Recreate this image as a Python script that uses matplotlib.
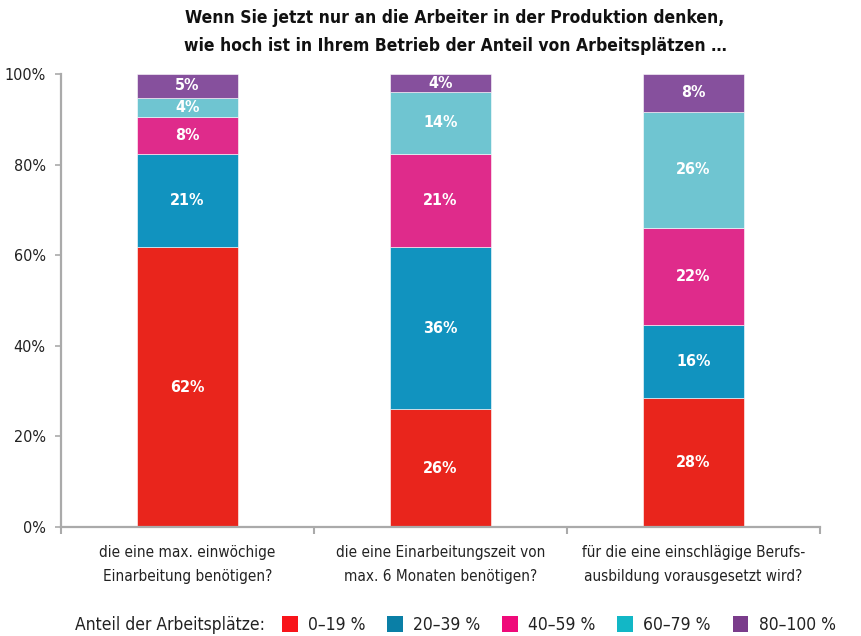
import matplotlib
matplotlib.use("Agg")
import matplotlib.pyplot as plt
from matplotlib import font_manager
from matplotlib.patches import Patch
import numpy as np

categories = ["die eine max. einwöchige\nEinarbeitung benötigen?",
              "die eine Einarbeitungszeit von\nmax. 6 Monaten benötigen?",
              "für die eine einschlägige Berufs-\nausbildung vorausgesetzt wird?"]
series_names = ["0–19 %", "20–39 %", "40–59 %", "60–79 %", "80–100 %"]
s_0_19 = [61.8, 26.0, 28.4]
s_20_39 = [20.6, 35.8, 16.1]
s_40_59 = [8.0, 20.6, 21.6]
s_60_79 = [4.4, 13.6, 25.6]
s_80_100 = [5.2, 4.0, 8.3]
yticks = [0, 20, 40, 60, 80, 100]
ytick_labels = ["0%", "20%", "40%", "60%", "80%", "100%"]
title = "Wenn Sie jetzt nur an die Arbeiter in der Produktion denken,\nwie hoch ist in Ihrem Betrieb der Anteil von Arbeitsplätzen …"
legend_title = "Anteil der Arbeitsplätze:"

bar_colors = ["#e9251c", "#1193bf", "#df2b8b", "#6fc5d1", "#86509d"]
legend_colors = ["#f8141a", "#0a7fa6", "#ef0a7a", "#12b7c6", "#7a3c8b"]

names = {f.name for f in font_manager.fontManager.ttflist}
if "Liberation Sans Narrow" in names:
    fam = "Liberation Sans Narrow"
    stretch = "normal"
else:
    fam = "DejaVu Sans"
    stretch = "condensed"
plt.rcParams["font.family"] = [fam, "DejaVu Sans"]
plt.rcParams["font.stretch"] = stretch

fig = plt.figure(figsize=(8.62, 6.36), dpi=100)
ax = fig.add_axes([61/862, 1-527/636, (820-61)/862, (527-74)/636])

series = [s_0_19, s_20_39, s_40_59, s_60_79, s_80_100]
x = np.arange(len(categories))
bottom = np.zeros(len(categories))
for vals, col in zip(series, bar_colors):
    vals = np.array(vals)
    ax.bar(x, vals, bottom=bottom, width=0.4, color=col, edgecolor="white", linewidth=0.4)
    for xi, b, v in zip(x, bottom, vals):
        ax.text(xi, b + v/2, f"{round(v)}%", ha="center", va="center", color="white",
                fontsize=11.5, fontweight="bold")
    bottom += vals

ax.set_xlim(-0.5, len(categories) - 0.5)
ax.set_ylim(0, 100)
ax.set_yticks(yticks)
ax.set_yticklabels(ytick_labels, fontsize=11.5, color="#222222")
ax.set_xticks(np.arange(-0.5, len(categories)), minor=False)
ax.set_xticklabels([])
ax.set_xticks(x, minor=True)
ax.set_xticklabels(categories, minor=True, fontsize=11, color="#222222", linespacing=1.75)
ax.tick_params(axis="x", which="major", length=5, color="#aaaaaa", width=1.5)
ax.tick_params(axis="x", which="minor", length=0, pad=13)
ax.tick_params(axis="y", length=4, color="#aaaaaa", width=1.2, pad=7)
for s in ["top", "right"]:
    ax.spines[s].set_visible(False)
for s in ["left", "bottom"]:
    ax.spines[s].set_color("#aaaaaa")
    ax.spines[s].set_linewidth(1.6)

fig.text(455/862, 1-32/636, title, ha="center", va="center", fontsize=12.5, fontweight="bold",
         linespacing=1.75, color="#111111")

fig.text(75/862, 1-625/636, legend_title, ha="left", va="center", fontsize=12.5, color="#222222")
handles = [Patch(facecolor=c, edgecolor="none") for c in legend_colors]
leg = fig.legend(handles, series_names, loc="center left", bbox_to_anchor=(282/862, 1-625/636),
                 ncol=5, frameon=False, fontsize=12.5, handlelength=0.9, handleheight=1.05,
                 handletextpad=0.6, columnspacing=1.25, borderaxespad=0, borderpad=0)
for t in leg.get_texts():
    t.set_color("#222222")

fig.savefig("out.png", dpi=100)
